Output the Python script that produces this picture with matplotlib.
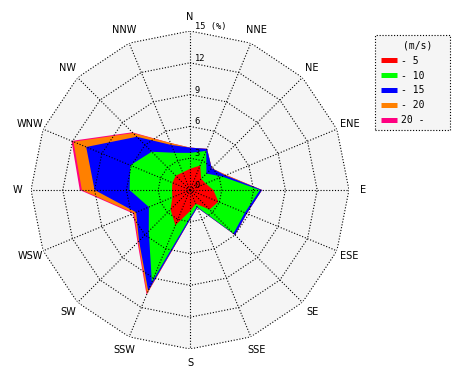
import numpy as np
import matplotlib
matplotlib.use("Agg")
import matplotlib.pyplot as plt
from matplotlib.lines import Line2D
from matplotlib.patches import Rectangle

# ---- data ----
directions = ['N', 'NNE', 'NE', 'ENE', 'E', 'ESE', 'SE', 'SSE',
              'S', 'SSW', 'SW', 'WSW', 'W', 'WNW', 'NW', 'NNW']
speed_labels = ['- 5', '- 10', '- 15', '- 20', '20 -']
band_colors = ['#ff0000', '#00ff00', '#0000ff', '#ff8000', '#ff0080']

# frequency (%) of each speed band per direction
freq_0_5   = [2.0, 2.5, 1.5, 1.6, 2.2, 2.9, 2.6, 1.4, 2.0, 3.6, 2.6, 1.8, 1.7, 1.8, 1.9, 1.8]
freq_5_10  = [1.5, 1.5, 0.7, 1.7, 4.4, 2.7, 3.2, 0.3, 0.6, 5.8, 2.9, 2.4, 4.0, 4.3, 3.2, 2.0]
freq_10_15 = [0.5, 0.2, 0.7, 0.3, 0.2, 0.2, 0.2, 0.1, 0.2, 0.9, 1.3, 1.3, 3.3, 4.5, 2.0, 0.8]
freq_15_20 = [0.0, 0.0, 0.0, 0.1, 0.0, 0.0, 0.0, 0.0, 0.0, 0.3, 0.1, 0.2, 1.2, 1.3, 0.5, 0.2]
freq_20_up = [0.0, 0.0, 0.0, 0.0, 0.0, 0.0, 0.0, 0.0, 0.0, 0.1, 0.1, 0.1, 0.2, 0.2, 0.1, 0.0]

radial_ticks = [0, 3, 6, 9, 12, 15]
radial_labels = ['0', '3', '6', '9', '12', '15 (%)']
r_max = 15

# ---- figure ----
W, H = 470, 380
fig = plt.figure(figsize=(W / 100, H / 100), dpi=100)
fig.patch.set_facecolor('white')
ax = fig.add_axes([31 / W, 31 / H, 318 / W, 318 / H], projection='polar')
ax.set_theta_zero_location('N')
ax.set_theta_direction(-1)
ax.set_ylim(0, r_max)
ax.grid(False)
ax.set_xticks([])
ax.set_yticks([])
ax.spines['polar'].set_visible(False)
ax.patch.set_alpha(0)

n = len(directions)
theta = np.deg2rad(np.arange(n) * 360.0 / n)
theta_c = np.append(theta, theta[0])

# background polygon
ax.fill(theta_c, [r_max] * (n + 1), color='#f5f5f5', lw=0, zorder=0)

bands = np.array([freq_0_5, freq_5_10, freq_10_15, freq_15_20, freq_20_up])
cum = np.cumsum(bands, axis=0)
for i in reversed(range(len(bands))):
    r = np.append(cum[i], cum[i][0])
    ax.fill(theta_c, r, color=band_colors[i], lw=0, zorder=2 + (len(bands) - i))

# polygonal dotted grid
dot = (0, (1, 1.6))
for rt in radial_ticks[1:]:
    ax.plot(theta_c, [rt] * (n + 1), color='black', ls=dot, lw=0.8, zorder=20)
for t in theta:
    ax.plot([t, t], [0, r_max], color='black', ls=dot, lw=0.8, zorder=20)

# direction labels
for t, name in zip(theta, directions):
    ax.text(t, 16.3, name, ha='center', va='center', fontsize=7,
            family='DejaVu Sans', clip_on=False)

# radial labels
for rt, lab in zip(radial_ticks, radial_labels):
    ax.annotate(lab, xy=(0, rt), xytext=(3.5, 3.2), textcoords='offset points',
                ha='left', va='center', fontsize=6.3, family='DejaVu Sans Mono',
                annotation_clip=False, zorder=25)

# legend box (frame drawn separately to match its size)
frame = Rectangle((375 / W, 1 - 130 / H), 75 / W, 95 / H, transform=fig.transFigure,
                  facecolor='#f5f5f5', edgecolor='black', lw=0.8, ls=(0, (1, 1.6)),
                  zorder=1)
fig.add_artist(frame)

handles = [Line2D([0], [0], color=c, lw=3.6, solid_capstyle='butt') for c in band_colors]
leg = fig.legend(handles, speed_labels, title='(m/s)', loc='upper left',
                 bbox_to_anchor=(374 / W, 1 - 34 / H),
                 prop={'family': 'DejaVu Sans Mono', 'size': 7},
                 title_fontproperties={'family': 'DejaVu Sans Mono', 'size': 7},
                 handlelength=1.65, handletextpad=0.45, labelspacing=0.5,
                 borderpad=0.2, frameon=False)
leg.set_zorder(5)
leg._legend_box.align = 'left'
leg.get_title().set_position((22, 0))

fig.savefig('out.png', dpi=100)
